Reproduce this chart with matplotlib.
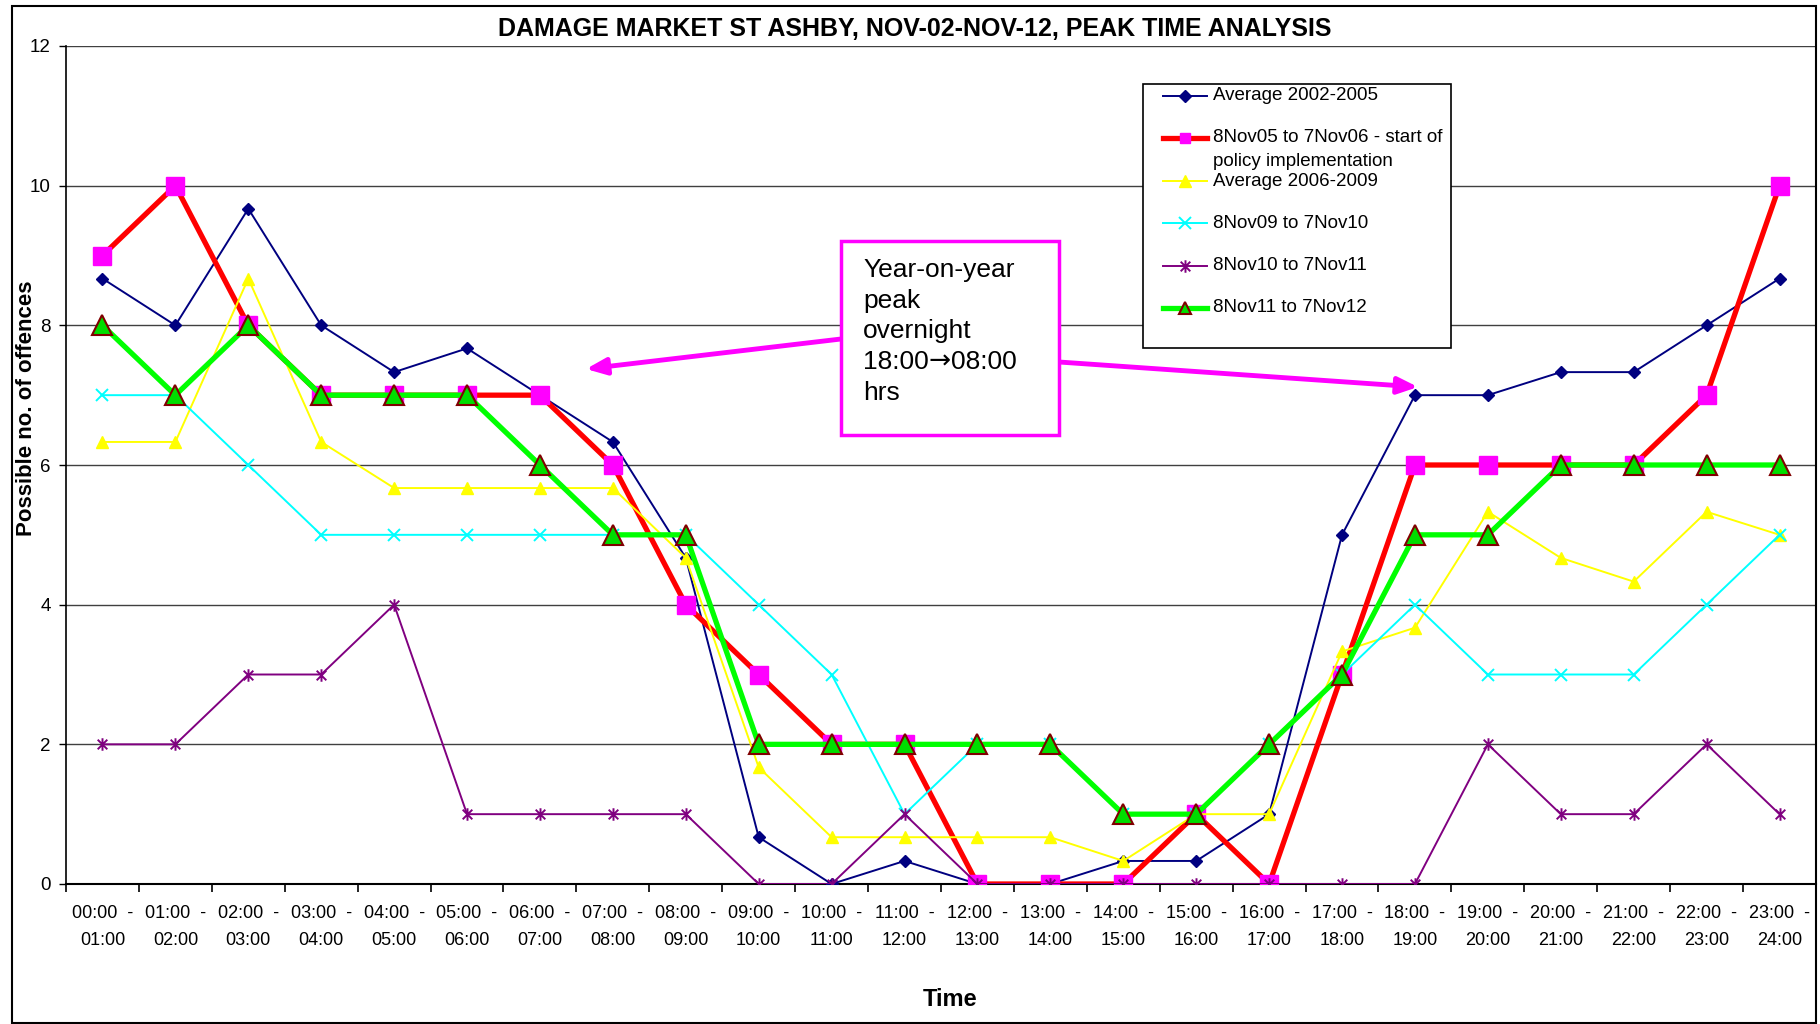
import numpy as np
import matplotlib
matplotlib.use("Agg")
import matplotlib.pyplot as plt
import matplotlib.path as mpath
from matplotlib.patches import Rectangle
from matplotlib.lines import Line2D

plt.rcParams['font.family'] = ['Liberation Sans', 'DejaVu Sans']

# hour bands
hours = ["00:00", "01:00", "02:00", "03:00", "04:00", "05:00", "06:00", "07:00",
         "08:00", "09:00", "10:00", "11:00", "12:00", "13:00", "14:00", "15:00",
         "16:00", "17:00", "18:00", "19:00", "20:00", "21:00", "22:00", "23:00", "24:00"]
categories = [hours[i] + "  -\n" + hours[i + 1] for i in range(24)]

avg_02_05 = [8.67, 8, 9.67, 8, 7.33, 7.67, 7, 6.33, 4.67, 0.67, 0, 0.33,
             0, 0, 0.33, 0.33, 1, 5, 7, 7, 7.33, 7.33, 8, 8.67]
nov05_06 = [9, 10, 8, 7, 7, 7, 7, 6, 4, 3, 2, 2,
            0, 0, 0, 1, 0, 3, 6, 6, 6, 6, 7, 10]
avg_06_09 = [6.33, 6.33, 8.67, 6.33, 5.67, 5.67, 5.67, 5.67, 4.67, 1.67, 0.67, 0.67,
             0.67, 0.67, 0.33, 1, 1, 3.33, 3.67, 5.33, 4.67, 4.33, 5.33, 5]
nov09_10 = [7, 7, 6, 5, 5, 5, 5, 5, 5, 4, 3, 1,
            2, 2, 1, 1, 2, 3, 4, 3, 3, 3, 4, 5]
nov10_11 = [2, 2, 3, 3, 4, 1, 1, 1, 1, 0, 0, 1,
            0, 0, 0, 0, 0, 0, 0, 2, 1, 1, 2, 1]
nov11_12 = [8, 7, 8, 7, 7, 7, 6, 5, 5, 2, 2, 2,
            2, 2, 1, 1, 2, 3, 5, 5, 6, 6, 6, 6]

labels = ["Average 2002-2005", "8Nov05 to 7Nov06 - start of", "Average 2006-2009",
          "8Nov09 to 7Nov10", "8Nov10 to 7Nov11", "8Nov11 to 7Nov12"]
note_lines = ["Year-on-year", "peak", "overnight", None, "hrs"]
note_arrow_line = ["18:00", "\u2192", "08:00"]

# excel style asterisk: x plus a vertical bar
star = mpath.Path([(-1, -1), (1, 1), (-1, 1), (1, -1), (0, -1.3), (0, 1.3)],
                  [1, 2, 1, 2, 1, 2])

styles = [
    dict(color='#000080', lw=1.4, marker='D', ms=6.5, mfc='#000080', mec='#000080'),
    dict(color='#FF0000', lw=3.8, marker='s', ms=13, mfc='#FF00FF', mec='#FF00FF'),
    dict(color='#FFFF00', lw=1.4, marker='^', ms=8, mfc='#FFFF00', mec='#FFFF00'),
    dict(color='#00FFFF', lw=1.4, marker='x', ms=8, mfc='#00FFFF', mec='#00FFFF', mew=1.4),
    dict(color='#800080', lw=1.4, marker=star, ms=9, mfc='none', mec='#800080', mew=1.4),
    dict(color='#00FF00', lw=3.8, marker='^', ms=15, mfc='#00DD00', mec='#800000', mew=1.5),
]
series = [avg_02_05, nov05_06, avg_06_09, nov09_10, nov10_11, nov11_12]

W, H = 1820, 1024
def fx(x):
    return x / W
def fy(y):
    return 1 - y / H

fig = plt.figure(figsize=(18.2, 10.24), dpi=100)
ax = fig.add_axes([fx(66), fy(884), (1816 - 66) / W, (884 - 46) / H])

x = np.arange(24)
for vals, st in zip(series, styles):
    ax.plot(x, vals, **st, zorder=3)

ax.set_xlim(-0.5, 23.5)
ax.set_ylim(0, 12)
ax.set_yticks(range(0, 13, 2))
ax.set_xticks(x)
ax.set_xticklabels(categories, fontsize=13, linespacing=1.75)
ax.set_xticks(np.arange(-0.5, 24, 1), minor=True)
ax.tick_params(axis='x', which='major', length=0, pad=15)
ax.tick_params(axis='x', which='minor', length=6, width=1.2, direction='out')
ax.tick_params(axis='y', length=5, width=1, labelsize=13.5, pad=6)
ax.yaxis.grid(True, color='#404040', lw=1)
ax.set_axisbelow(True)
ax.spines['top'].set_visible(False)
ax.spines['right'].set_visible(False)
ax.spines['left'].set_linewidth(1.2)
ax.spines['bottom'].set_linewidth(1.5)

# titles
fig.text(fx(915), fy(29), "DAMAGE MARKET ST ASHBY, NOV-02-NOV-12, PEAK TIME ANALYSIS",
         ha='center', va='center', fontsize=18, fontweight='bold')
fig.text(fx(27), fy(408), "Possible no. of offences", rotation=90,
         ha='center', va='center', fontsize=16, fontweight='bold')
fig.text(fx(950), fy(1000), "Time", ha='center', va='center', fontsize=17, fontweight='bold')

# outer chart border
fig.patches.append(Rectangle((fx(12), fy(1023)), (1816 - 12) / W, (1023 - 6) / H,
                             transform=fig.transFigure, fill=False, ec='black', lw=1.5))

# legend box, drawn by hand to copy the excel layout
fig.patches.append(Rectangle((fx(1143), fy(348)), (1451 - 1143) / W, (348 - 84) / H,
                             transform=fig.transFigure, fc='white', ec='black', lw=1.2, zorder=5))
rows = [96, 138, 181, 223, 266, 308]
for lab, st, yy in zip(labels, styles, rows):
    kw = dict(st)
    if kw['ms'] > 10:
        kw['ms'] = kw['ms'] * 0.55
    fig.add_artist(Line2D([fx(1163), fx(1207)], [fy(yy), fy(yy)],
                          transform=fig.transFigure, color=kw['color'], lw=kw['lw'], zorder=6))
    fig.add_artist(Line2D([fx(1185)], [fy(yy)], transform=fig.transFigure, ls='none',
                          marker=kw['marker'], ms=kw['ms'], mfc=kw['mfc'], mec=kw['mec'],
                          mew=kw.get('mew', 1), zorder=7))
    fig.text(fx(1213), fy(yy), lab, ha='left', va='center', fontsize=13.5, zorder=7)
fig.text(fx(1213), fy(162), "policy implementation", ha='left', va='center', fontsize=13.5, zorder=7)

# annotation box and arrows
fig.patches.append(Rectangle((fx(841), fy(435)), (1059 - 841) / W, (435 - 241) / H,
                             transform=fig.transFigure, fc='white', ec='#FF00FF', lw=2.5, zorder=5))
renderer = fig.canvas.get_renderer()
for line, yy in zip(note_lines, [270, 301, 331, 362, 393]):
    if line is not None:
        fig.text(fx(863), fy(yy), line, ha='left', va='center', fontsize=19, zorder=6)
    else:
        xpos = 863
        for part in note_arrow_line:
            fam = ['DejaVu Sans'] if part == "\u2192" else ['Liberation Sans']
            t = fig.text(fx(xpos), fy(yy), part, ha='left', va='center', fontsize=19,
                         family=fam, zorder=6)
            xpos += t.get_window_extent(renderer).width
for start, end in [((841, 339), (586, 369)), ((1059, 362), (1418, 387))]:
    ax.annotate("", xy=(fx(end[0]), fy(end[1])), xycoords='figure fraction',
                xytext=(fx(start[0]), fy(start[1])), textcoords='figure fraction',
                arrowprops=dict(arrowstyle='-|>,head_length=1.2,head_width=0.5',
                                color='#FF00FF', lw=3.5, shrinkA=0, shrinkB=0))

fig.savefig("out.png", dpi=100)
